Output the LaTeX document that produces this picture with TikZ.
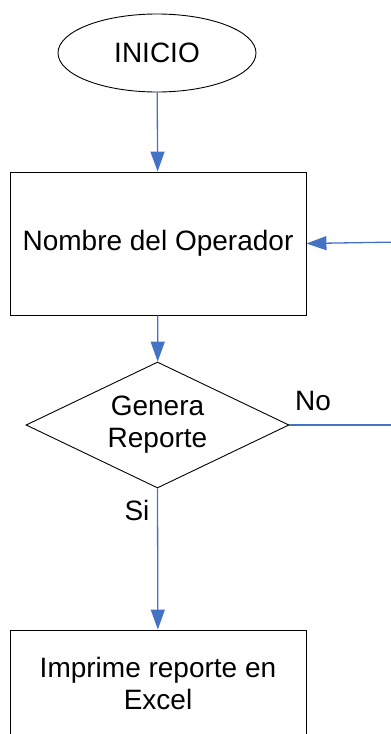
\documentclass[tikz,border=0pt]{standalone}
\usepackage{fontspec}
\setmainfont{Liberation Sans}
\usepackage{xcolor}
\usepackage{tikz}
\usetikzlibrary{arrows.meta,positioning,shapes.geometric,calc}

\definecolor{flowblue}{RGB}{68,114,196}

\begin{document}
\begin{tikzpicture}[x=1pt, y=-1pt,
    every node/.style={font=\fontsize{28}{32}\selectfont, inner sep=0pt},
    startnode/.style={ellipse, draw, line width=0.9pt, minimum width=198pt, minimum height=78pt},
    procbox/.style={rectangle, draw, line width=0.9pt, minimum width=296pt, align=center},
    decnode/.style={diamond, draw, line width=0.9pt, aspect=2, minimum width=263pt, minimum height=126pt, align=center},
    flow/.style={flowblue, line width=1.3pt},
    flowarrow/.style={flow, -{Triangle[length=20pt, width=14pt]}}]
  \useasboundingbox (0,0) rectangle (391,734);
  \clip (0,0) rectangle (391,734);
  \begin{scope}
    % Nodes
    \node[startnode] (inicio) at (157,53) {INICIO};
    \node[procbox, minimum height=143pt] (operador) at (158,243.5) {Nombre del Operador};
    \node[decnode] (genera) at (157.5,425) {Genera\\Reporte};
    \node[procbox, minimum height=106pt] (imprime) at (158,683) {Imprime reporte en\\Excel};

    % Loop back from the right
    \coordinate (retorno) at (400,242);
    \coordinate (salida) at (400,425);

    % Connectors
    \draw[flowarrow] (inicio) -- (operador);
    \draw[flowarrow] (operador) -- (genera);
    \draw[flowarrow] (genera.south) -- (imprime);
    \draw[flow] (genera.east) -- (salida);
    \draw[flowarrow] (retorno) -- (operador.east);

    % Branch labels
    \node (lblno) at (313,401) {No};
    \node (lblsi) at (137,510) {Si};
  \end{scope}
\end{tikzpicture}
\end{document}
